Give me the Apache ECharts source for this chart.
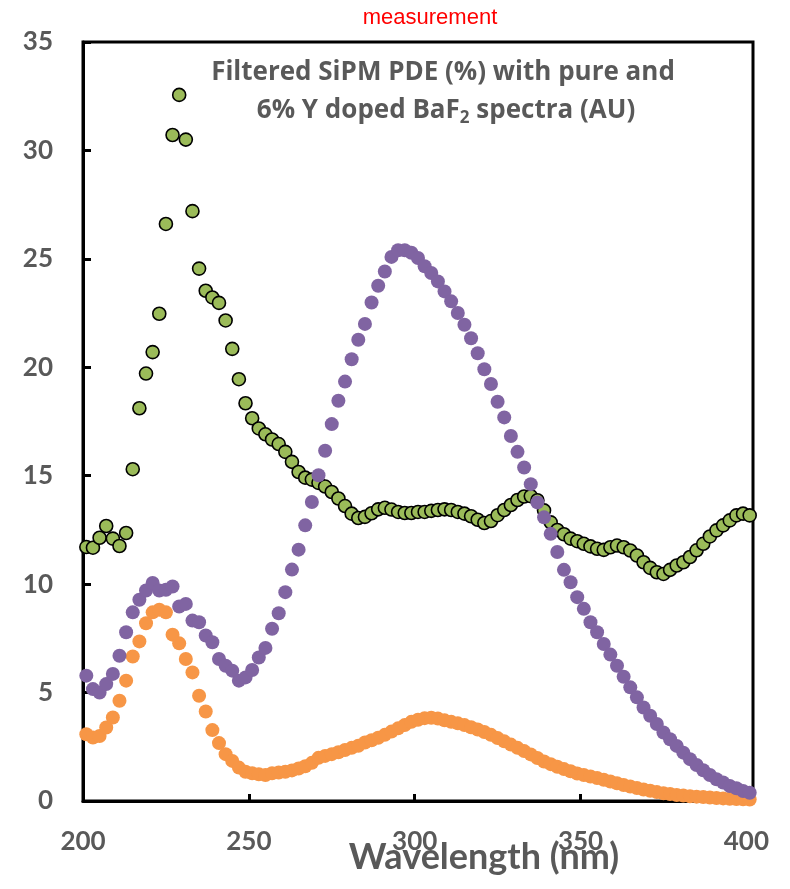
<!DOCTYPE html>
<html>
<head>
<meta charset="utf-8">
<script src="https://cdn.jsdelivr.net/npm/echarts@6/dist/echarts.min.js"></script>
<style>
html,body{margin:0;padding:0;background:#fff;}
#chart{width:790px;height:889px;}
</style>
</head>
<body>
<div id="chart"></div>
<script>
var wavelength = [201,203,205,207,209,211,213,215,217,219,221,223,225,227,229,231,233,235,237,239,
241,243,245,247,249,251,253,255,257,259,261,263,265,267,269,271,273,275,277,279,
281,283,285,287,289,291,293,295,297,299,301,303,305,307,309,311,313,315,317,319,
321,323,325,327,329,331,333,335,337,339,341,343,345,347,349,351,353,355,357,359,
361,363,365,367,369,371,373,375,377,379,381,383,385,387,389,391,393,395,397,399,401];

var sipmPDE = [11.71,11.68,12.14,12.68,12.10,11.76,12.36,15.30,18.11,19.71,20.70,22.47,26.61,30.71,32.56,30.50,27.20,24.55,23.53,23.22,
22.97,22.16,20.85,19.45,18.34,17.65,17.18,16.91,16.67,16.46,16.10,15.64,15.17,14.91,14.82,14.67,14.50,14.25,13.95,13.60,
13.25,13.05,13.10,13.27,13.45,13.52,13.44,13.33,13.28,13.28,13.33,13.33,13.38,13.42,13.45,13.42,13.33,13.25,13.13,12.97,
12.82,12.91,13.18,13.42,13.65,13.88,14.04,14.06,13.87,13.40,12.85,12.50,12.30,12.10,11.98,11.86,11.74,11.63,11.58,11.70,
11.78,11.70,11.55,11.32,11.01,10.75,10.55,10.47,10.66,10.86,11.01,11.25,11.56,11.86,12.20,12.48,12.71,12.94,13.17,13.25,13.17];

var doped6Y = [3.08,2.93,3.00,3.39,3.85,4.62,5.55,6.66,7.36,8.20,8.70,8.82,8.70,7.67,7.27,6.55,5.93,4.85,4.13,3.27,
2.67,2.16,1.85,1.54,1.35,1.28,1.23,1.20,1.28,1.31,1.35,1.41,1.50,1.60,1.76,1.99,2.08,2.16,2.25,2.35,
2.45,2.55,2.70,2.80,2.92,3.05,3.20,3.35,3.50,3.65,3.75,3.82,3.84,3.80,3.72,3.65,3.58,3.50,3.40,3.30,
3.18,3.05,2.90,2.75,2.60,2.45,2.30,2.15,1.98,1.82,1.70,1.58,1.47,1.37,1.27,1.20,1.13,1.06,0.98,0.90,
0.82,0.74,0.67,0.60,0.53,0.47,0.41,0.36,0.32,0.28,0.25,0.22,0.20,0.18,0.16,0.14,0.12,0.10,0.09,0.08,0.07];

var pureBaF2 = [5.78,5.16,5.00,5.39,5.86,6.70,7.78,8.70,9.28,9.71,10.05,9.71,9.74,9.89,8.97,9.09,8.32,8.24,7.63,7.32,
6.55,6.24,6.01,5.55,5.70,6.04,6.62,7.06,7.94,8.66,9.63,10.67,11.59,12.71,13.79,15.02,16.15,17.38,18.46,19.34,
20.37,21.27,22.00,22.99,23.76,24.42,25.09,25.40,25.40,25.28,25.04,24.66,24.35,23.96,23.50,23.04,22.50,21.96,21.34,20.65,
19.91,19.23,18.41,17.69,16.83,16.10,15.38,14.61,13.77,13.08,12.32,11.48,10.66,10.09,9.40,8.86,8.24,7.78,7.24,6.75,
6.24,5.73,5.24,4.78,4.31,3.93,3.55,3.16,2.85,2.54,2.23,1.93,1.66,1.42,1.20,1.00,0.85,0.69,0.59,0.46,0.38];

var xTicks = [200,250,300,350,400];
var yTicks = [0,5,10,15,20,25,30,35];

function pairs(xs, ys){ return xs.map(function(x,i){ return [x, ys[i]]; }); }

var chart = echarts.init(document.getElementById('chart'));
var labelColor = '#595959';
var fontFam = 'Lato';
var noteFont = '"Open Sans"';

chart.setOption({
  animation: false,
  backgroundColor: '#ffffff',
  grid: {left: 83, right: 37, top: 42, bottom: 88, show: true, borderColor: '#000', borderWidth: 3, backgroundColor: 'transparent'},
  xAxis: {
    type: 'value', min: 200, max: 402, interval: 50,
    axisLine: {show: true, lineStyle: {color: '#000', width: 3}},
    axisTick: {show: true, inside: true, length: 7, lineStyle: {color: '#000', width: 3}},
    splitLine: {show: false},
    axisLabel: {margin: 28, color: labelColor, fontFamily: fontFam, fontWeight: 'bold', fontSize: 26,
      formatter: function(v){ return xTicks.indexOf(v) >= 0 ? String(v) : ''; }}
  },
  yAxis: {
    type: 'value', min: 0, max: 35, interval: 5,
    axisLine: {show: true, lineStyle: {color: '#000', width: 3}},
    axisTick: {show: true, inside: true, length: 8, lineStyle: {color: '#000', width: 3}},
    splitLine: {show: false},
    axisLabel: {margin: 30, color: labelColor, fontFamily: fontFam, fontWeight: 'bold', fontSize: 26,
      formatter: function(v){ return yTicks.indexOf(v) >= 0 ? String(v) : ''; }}
  },
  series: [
    {name: 'Filtered SiPM PDE (%)', type: 'scatter', data: pairs(wavelength, sipmPDE), symbol: 'circle', symbolSize: 13,
      itemStyle: {color: '#9BBB59', borderColor: '#000', borderWidth: 1.6, opacity: 1}, z: 2},
    {name: '6% Y doped BaF2', type: 'scatter', data: pairs(wavelength, doped6Y), symbol: 'circle', symbolSize: 14,
      itemStyle: {color: '#F79646', opacity: 1}, z: 3},
    {name: 'pure BaF2', type: 'scatter', data: pairs(wavelength, pureBaF2), symbol: 'circle', symbolSize: 14,
      itemStyle: {color: '#8064A2', opacity: 1}, z: 4}
  ],
  graphic: [
    {type: 'text', x: 430, y: 18, style: {text: 'measurement', fill: '#FF0000', font: '22px "Liberation Sans", Arial, sans-serif', textAlign: 'center', textVerticalAlign: 'middle'}},
    {type: 'text', x: 443, y: 73, style: {text: 'Filtered SiPM PDE (%) with pure and', fill: labelColor, font: 'bold 26px ' + noteFont, textAlign: 'center', textVerticalAlign: 'middle'}, z: 10},
    {type: 'text', x: 446, y: 111, style: {
      text: '{a|6% Y doped BaF}{s|2}{a| spectra (AU)}',
      textAlign: 'center', textVerticalAlign: 'middle',
      rich: {
        a: {fill: labelColor, fontFamily: 'Open Sans', fontWeight: 'bold', fontSize: 26, lineHeight: 32},
        s: {fill: labelColor, fontFamily: 'Open Sans', fontWeight: 'bold', fontSize: 17, lineHeight: 32, padding: [14, 0, 0, 0]}
      }}, z: 10},
    {type: 'text', x: 484, y: 857, style: {text: 'Wavelength (nm)', fill: labelColor, font: 'bold 36px Lato', textAlign: 'center', textVerticalAlign: 'middle'}, z: 10}
  ]
});
</script>
</body>
</html>
